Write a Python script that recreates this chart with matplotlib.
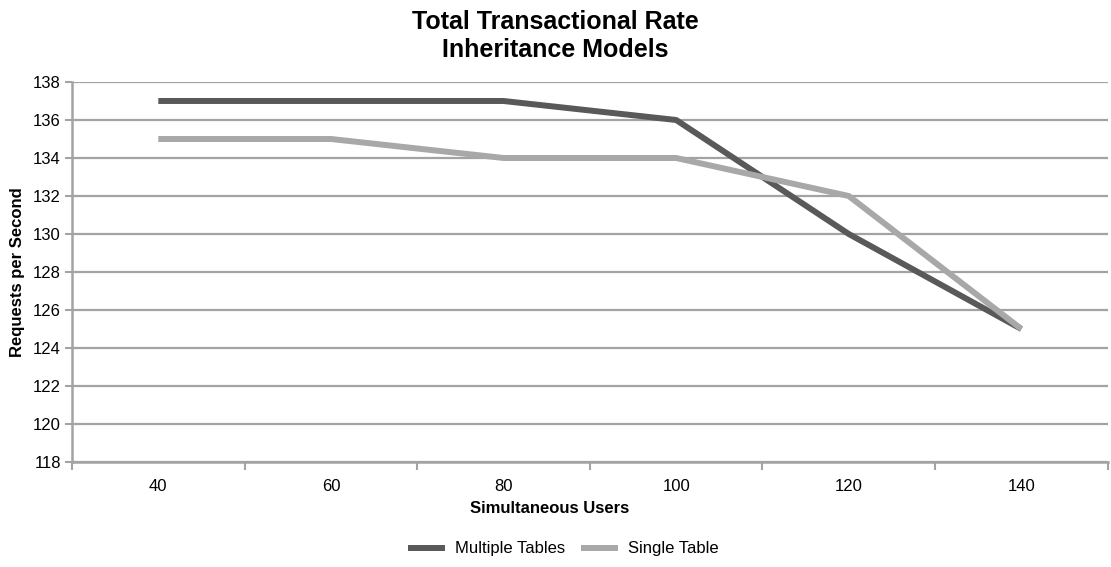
import numpy as np
import matplotlib
matplotlib.use('Agg')
import matplotlib.pyplot as plt

plt.rcParams['font.family'] = ['Liberation Sans Narrow', 'Liberation Sans', 'DejaVu Sans']

# data
users = ['40', '60', '80', '100', '120', '140']
multiple_tables = [137, 137, 137, 136, 130, 125]
single_table = [135, 135, 134, 134, 132, 125]
y_ticks = list(range(118, 139, 2))

GRID = '#a3a3a3'
DARK = '#595959'
LIGHT = '#a8a8a8'

fig = plt.figure(figsize=(11.11, 5.67), dpi=100)
ax = fig.add_axes([0.0648, 0.1852, 0.9322, 0.6702])

x = np.arange(len(users))
ax.plot(x, multiple_tables, color=DARK, linewidth=4.3, label='Multiple Tables',
        solid_capstyle='butt', zorder=3)
ax.plot(x, single_table, color=LIGHT, linewidth=4.3, label='Single Table',
        solid_capstyle='butt', zorder=3)

ax.set_xlim(-0.5, len(users) - 0.5)
ax.set_ylim(118, 138)
ax.set_yticks(y_ticks)
ax.set_yticklabels([str(v) for v in y_ticks], fontsize=12)

# category axis: ticks on boundaries, labels in the middle
ax.set_xticks(np.arange(-0.5, len(users), 1.0))
ax.set_xticklabels([])
ax.set_xticks(x, minor=True)
ax.set_xticklabels(users, minor=True, fontsize=12)
ax.tick_params(axis='x', which='major', length=6, width=1.5, color=GRID, direction='out')
ax.tick_params(axis='x', which='minor', length=0, pad=12)
ax.tick_params(axis='y', length=5, width=1.5, color=GRID, direction='out', pad=3)

ax.grid(axis='y', color=GRID, linewidth=1.6, zorder=1)
ax.set_axisbelow(True)
for side in ['top', 'right']:
    ax.spines[side].set_visible(False)
for side in ['left', 'bottom']:
    ax.spines[side].set_color(GRID)
    ax.spines[side].set_linewidth(1.8)

ax.set_ylabel('Requests per Second', fontsize=12, fontweight='bold', labelpad=6)
fig.text(0.495, 0.104, 'Simultaneous Users', ha='center', va='center',
         fontsize=12, fontweight='bold')
fig.text(0.5, 0.961, 'Total Transactional Rate', ha='center', va='center',
         fontsize=18, fontweight='bold')
fig.text(0.5, 0.912, 'Inheritance Models', ha='center', va='center',
         fontsize=18, fontweight='bold')

fig.legend(loc='center', bbox_to_anchor=(0.507, 0.032), ncol=2, frameon=False,
           fontsize=12, handlelength=2.2, columnspacing=1.0, handletextpad=0.6)

fig.savefig('out.png', dpi=100)
